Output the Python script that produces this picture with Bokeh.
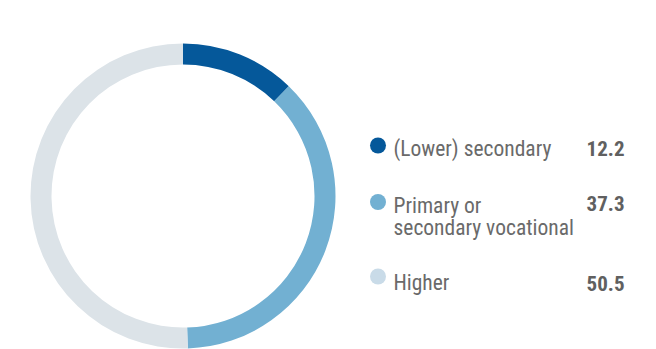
from bokeh.plotting import figure
from bokeh.models import Range1d
from bokeh.core.properties import value
from bokeh.embed import file_html
from bokeh.resources import INLINE
import math

categories = ["(Lower) secondary", "Primary or\nsecondary vocational", "Higher"]
shares = [12.2, 37.3, 50.5]
value_labels = ["12.2", "37.3", "50.5"]
ring_colors = ["#05589a", "#72b0d2", "#dce3e8"]
dot_colors = ["#05589a", "#72b0d2", "#c9dbe8"]

W, H = 656, 349
p = figure(width=W, height=H, output_backend="svg", toolbar_location=None,
           x_range=Range1d(0, W), y_range=Range1d(0, H), min_border=0)
p.axis.visible = False
p.grid.visible = False
p.outline_line_color = None
p.background_fill_color = "white"

def fy(py):
    return H - py

# donut
cx, cy = 182.5, fy(195.5)
total = sum(shares)
starts, ends = [], []
acc = 0.0
for s in shares:
    a0 = math.pi / 2 - 2 * math.pi * acc / total
    acc += s
    a1 = math.pi / 2 - 2 * math.pi * acc / total
    starts.append(a0)
    ends.append(a1)
p.annular_wedge(x=[cx] * 3, y=[cy] * 3, inner_radius=131.5, outer_radius=152.5,
                start_angle=starts, end_angle=ends, direction="clock",
                fill_color=ring_colors, line_color=None)

# legend
font = value("'Liberation Sans Narrow', 'Roboto Condensed', Roboto, sans-serif")
dot_y = [fy(145), fy(201.5), fy(276)]
base_y = [fy(147.5), fy(205), fy(281.5)]
val_y = [fy(147.5), fy(203), fy(282.5)]
line_gap = 22
p.scatter(x=[377.5] * 3, y=dot_y, size=16, marker="circle",
          fill_color=dot_colors, line_color=None)
tx, ty, tt = [], [], []
for lab, by in zip(categories, base_y):
    for i, line in enumerate(lab.split("\n")):
        tx.append(393)
        ty.append(by - i * line_gap)
        tt.append(line)
p.text(x=tx, y=ty, text=tt, text_font=font, text_font_size="21.5px",
       text_color="#6a6a6a", text_baseline="alphabetic", text_align="left")
p.text(x=[624] * 3, y=val_y, text=value_labels, text_font=font,
       text_font_size="21px", text_font_style="bold", text_color="#606060",
       text_baseline="alphabetic", text_align="right")

open("out.html", "w").write(file_html(p, INLINE))
